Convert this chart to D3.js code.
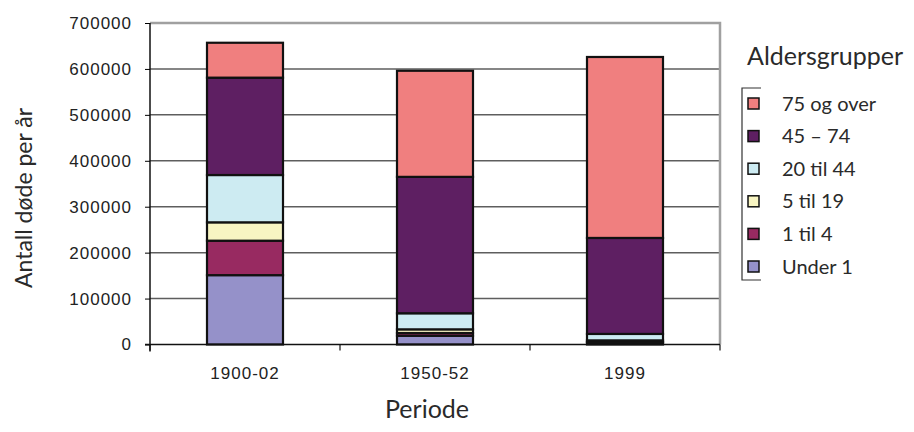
<!DOCTYPE html>
<html>
<head>
<meta charset="utf-8">
<script src="https://cdn.jsdelivr.net/npm/d3@7"></script>
<style>
  body { margin: 0; background: #fff; }
  .tick text { font-family: 'Liberation Sans', Arial, sans-serif; fill: #222; }
</style>
</head>
<body>
<div id="chart"></div>
<script>
const periods = ['1900-02', '1950-52', '1999']
const groups = ['Under 1', '1 til 4', '5 til 19', '20 til 44', '45 – 74', '75 og over']
const under1 = [151000, 19000, 4000]
const age1to4 = [75000, 6000, 1500]
const age5to19 = [40000, 8000, 3500]
const age20to44 = [103000, 35000, 14000]
const age45to74 = [212000, 297000, 209000]
const age75plus = [76000, 231000, 394000]
const yTicks = [0, 100000, 200000, 300000, 400000, 500000, 600000, 700000]
const colors = ['#9591c9', '#982a61', '#f8f5c2', '#cdebf2', '#5e1f62', '#f07f7f']

const margin = { top: 23, right: 194, bottom: 87.5, left: 150 }
const width = 914 - margin.left - margin.right
const height = 432 - margin.top - margin.bottom

const svgRoot = d3.select('#chart')
  .append('svg')
  .attr('width', 914)
  .attr('height', 432)

const svg = svgRoot.append('g')
  .attr('transform', 'translate(' + margin.left + ',' + margin.top + ')')

// build rows for the stack
const series = [under1, age1to4, age5to19, age20to44, age45to74, age75plus]
const rows = periods.map((p, i) => {
  const row = { period: p }
  groups.forEach((g, j) => { row[g] = series[j][i] })
  return row
})
const stacked = d3.stack().keys(groups)(rows)

const x = d3.scaleBand()
  .domain(periods)
  .range([0, width])
  .paddingInner(0.6)
  .paddingOuter(0.3)

const y = d3.scaleLinear()
  .domain([0, 700000])
  .range([height, 0])

// gridlines
svg.append('g')
  .selectAll('line')
  .data(yTicks.filter(d => d > 0 && d < 700000))
  .enter()
  .append('line')
  .attr('x1', 0)
  .attr('x2', width)
  .attr('y1', d => y(d))
  .attr('y2', d => y(d))
  .attr('stroke', '#5e5e5e')
  .attr('stroke-width', 1.5)

// plot border top + right
svg.append('path')
  .attr('d', 'M0,' + y(700000) + 'H' + width + 'V' + height)
  .attr('fill', 'none')
  .attr('stroke', '#a0a0a0')
  .attr('stroke-width', 2.5)

// bars
svg.append('g')
  .selectAll('g')
  .data(stacked)
  .enter()
  .append('g')
  .attr('fill', (d, i) => colors[i])
  .selectAll('rect')
  .data(d => d)
  .enter()
  .append('rect')
  .attr('x', d => x(d.data.period))
  .attr('width', x.bandwidth())
  .attr('y', d => y(d[1]))
  .attr('height', d => y(d[0]) - y(d[1]))
  .attr('stroke', '#111')
  .attr('stroke-width', 2.2)

// y axis
const yAxis = d3.axisLeft(y)
  .tickValues(yTicks)
  .tickFormat(d3.format('d'))
  .tickSize(5)
  .tickPadding(13)

svg.append('g')
  .attr('class', 'axis y-axis')
  .call(yAxis)
  .call(g => g.selectAll('text').attr('font-size', 17).attr('letter-spacing', 1))
  .call(g => g.select('.domain').attr('stroke', '#111').attr('stroke-width', 1.5)
    .attr('d', 'M0,0V' + (height + 7)))

// x axis
const xAxis = d3.axisBottom(x).tickSize(0).tickPadding(22)
svg.append('g')
  .attr('class', 'axis x-axis')
  .attr('transform', 'translate(0,' + height + ')')
  .call(xAxis)
  .call(g => g.selectAll('text').attr('font-size', 17).attr('letter-spacing', 1))
  .call(g => g.select('.domain').attr('stroke', '#111').attr('stroke-width', 1.5)
    .attr('d', 'M-5,0H' + width))

// x boundary ticks
const step = x.step()
svg.append('g')
  .selectAll('line')
  .data(periods.concat(['end']))
  .enter()
  .append('line')
  .attr('x1', (d, i) => i * step)
  .attr('x2', (d, i) => i * step)
  .attr('y1', height)
  .attr('y2', height + 6)
  .attr('stroke', '#111')
  .attr('stroke-width', 1.2)

// axis titles
svgRoot.append('text')
  .text('Antall døde per år')
  .attr('transform', 'translate(32,198) rotate(-90)')
  .attr('text-anchor', 'middle')
  .attr('font-family', 'Lato, sans-serif')
  .attr('font-size', 23)
  .attr('fill', '#2a2a2a')

svgRoot.append('text')
  .text('Periode')
  .attr('x', 427)
  .attr('y', 418)
  .attr('text-anchor', 'middle')
  .attr('font-family', 'Lato, sans-serif')
  .attr('font-size', 25)
  .attr('fill', '#2a2a2a')

// legend
const legend = svgRoot.append('g')

legend.append('text')
  .text('Aldersgrupper')
  .attr('x', 747)
  .attr('y', 65)
  .attr('font-family', 'Lato, sans-serif')
  .attr('font-size', 25)
  .attr('fill', '#2a2a2a')

legend.append('path')
  .attr('d', 'M761,88H742V280H761')
  .attr('fill', 'none')
  .attr('stroke', '#333')
  .attr('stroke-width', 1.2)

const legendItems = groups.slice().reverse()
const legendY = d3.scalePoint()
  .domain(legendItems)
  .range([103.5, 266.5])

legend.selectAll('rect')
  .data(legendItems)
  .enter()
  .append('rect')
  .attr('x', 748)
  .attr('y', d => legendY(d) - 5.5)
  .attr('width', 11)
  .attr('height', 11)
  .attr('fill', d => colors[groups.indexOf(d)])
  .attr('stroke', '#111')
  .attr('stroke-width', 1.5)

legend.selectAll('.legend-label')
  .data(legendItems)
  .enter()
  .append('text')
  .attr('class', 'legend-label')
  .text(d => d)
  .attr('x', 782)
  .attr('y', d => legendY(d) + 7)
  .attr('font-family', 'Lato, sans-serif')
  .attr('font-size', 20)
  .attr('fill', '#2a2a2a')
</script>
</body>
</html>
